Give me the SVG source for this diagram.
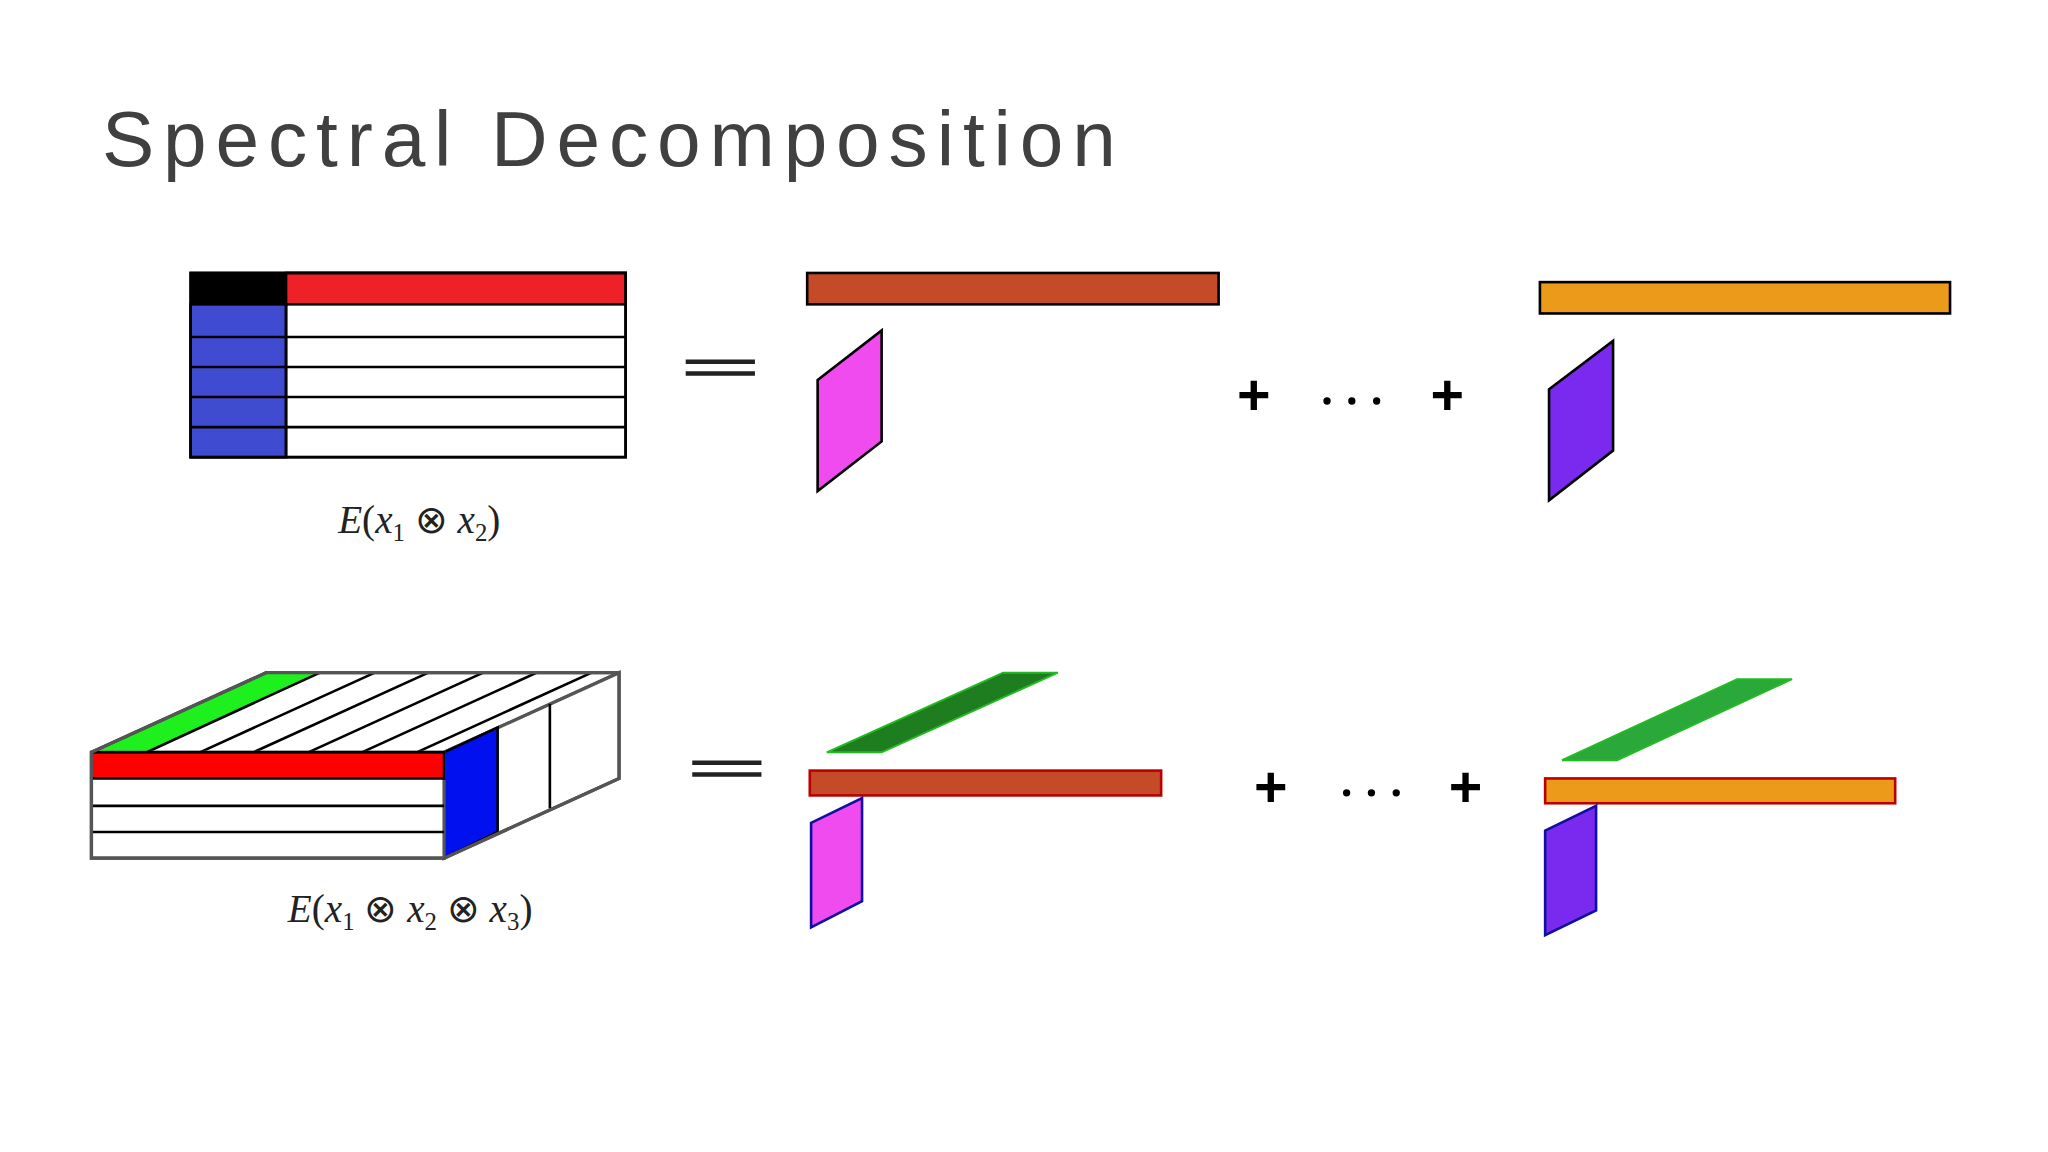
<svg xmlns="http://www.w3.org/2000/svg" width="2048" height="1152" viewBox="0 0 2048 1152">
<style>
.t{font-family:"Liberation Serif",serif;font-style:italic;font-size:30px;fill:#222}
.n{font-style:normal}
.op{font-family:"Liberation Sans",sans-serif;font-weight:bold;font-size:44px;fill:#000}
.s{stroke:#000;stroke-width:2}
.g{stroke:#555;stroke-width:2.5}
</style>
<rect width="2048" height="1152" fill="#fff"/>
<g transform="scale(1.30612)">
<text x="78" y="127" font-family="Liberation Sans, sans-serif" font-size="60" letter-spacing="6.8" fill="#404040">Spectral Decomposition</text>
<g id="matrix">
<rect x="146" y="209" width="333" height="141" fill="#fff" class="s"/>
<rect x="146" y="209" width="73" height="24" fill="#000"/>
<rect x="219" y="209" width="260" height="24" fill="#ee2028" class="s"/>
<rect x="146" y="233" width="73" height="117" fill="#3f4bd0" class="s"/>
<path d="M146 258H479M146 281H479M146 304H479M146 327H479M219 233V350" class="s" fill="none"/>
<rect x="146" y="209" width="333" height="141" fill="none" class="s"/>
<text x="321" y="408" text-anchor="middle" class="t">E<tspan class="n">(</tspan>x<tspan font-size="19" dy="6" class="n">1</tspan><tspan dy="-6" class="n"> ⊗ </tspan>x<tspan font-size="19" dy="6" class="n">2</tspan><tspan dy="-6" class="n">)</tspan></text>
</g>
<g id="eq1"><path d="M525 277H578M525 286H578" stroke="#222" stroke-width="3.5"/></g>
<g id="term1a">
<rect x="618" y="209" width="315" height="24" fill="#c44a28" class="s"/>
<polygon points="626,291 675,253 675,338 626,376" fill="#ef4bef" class="s"/>
</g>
<g id="ops1">
<text x="960" y="318" text-anchor="middle" class="op">+</text>
<circle cx="1016" cy="307" r="2.8"/><circle cx="1035" cy="307" r="2.8"/><circle cx="1054" cy="307" r="2.8"/>
<text x="1108" y="318" text-anchor="middle" class="op">+</text>
</g>
<g id="term1b">
<rect x="1179" y="216" width="314" height="24" fill="#eb9a1a" class="s"/>
<polygon points="1186,298 1235,261 1235,345 1186,383" fill="#7a2aef" class="s"/>
</g>
<g id="tensor">
<polygon points="70,576 204,515 474,515 340,576" fill="#fff" class="g"/>
<polygon points="70,576 204,515 245,515 112,576" fill="#1ef01e" class="s"/>
<path d="M153,576L287,515M194,576L328,515M236,576L370,515M277,576L411,515M319,576L453,515" class="s" fill="none"/>
<polygon points="340,576 474,515 474,596 340,657" fill="#fff" class="g"/>
<polygon points="340,576 381,557 381,637 340,657" fill="#0010ee" class="s"/>
<path d="M421,539V619" class="s"/>
<rect x="70" y="576" width="270" height="81" fill="#fff" class="g"/>
<rect x="70" y="576" width="270" height="20" fill="#ff0000" class="s"/>
<path d="M70 617H340M70 637H340" class="s"/>
<polygon points="70,576 204,515 474,515 474,596 340,657 70,657" fill="none" class="g"/>
<text x="314" y="706" text-anchor="middle" class="t">E<tspan class="n">(</tspan>x<tspan font-size="19" dy="6" class="n">1</tspan><tspan dy="-6" class="n"> ⊗ </tspan>x<tspan font-size="19" dy="6" class="n">2</tspan><tspan dy="-6" class="n"> ⊗ </tspan>x<tspan font-size="19" dy="6" class="n">3</tspan><tspan dy="-6" class="n">)</tspan></text>
</g>
<g id="eq2"><path d="M530 584H583M530 593H583" stroke="#222" stroke-width="3.5"/></g>
<g id="term2a">
<polygon points="633,576 768,515 810,515 675,576" fill="#1e7d1e" stroke="#2b2" stroke-width="1.5"/>
<rect x="620" y="590" width="269" height="19" fill="#c44a28" stroke="#b00" stroke-width="2"/>
<polygon points="621,630 660,611 660,690 621,710" fill="#ef4bef" stroke="#1010a0" stroke-width="2"/>
</g>
<g id="ops2">
<text x="973" y="618" text-anchor="middle" class="op">+</text>
<circle cx="1031" cy="607" r="2.8"/><circle cx="1050" cy="607" r="2.8"/><circle cx="1069" cy="607" r="2.8"/>
<text x="1122" y="618" text-anchor="middle" class="op">+</text>
</g>
<g id="term2b">
<polygon points="1196,582 1330,520 1372,520 1238,582" fill="#2aa83a" stroke="#2b2" stroke-width="1.5"/>
<rect x="1183" y="596" width="268" height="19" fill="#eb9a1a" stroke="#b00" stroke-width="2"/>
<polygon points="1183,636 1222,617 1222,697 1183,716" fill="#7a2aef" stroke="#1010a0" stroke-width="2"/>
</g>
</g>
</svg>
